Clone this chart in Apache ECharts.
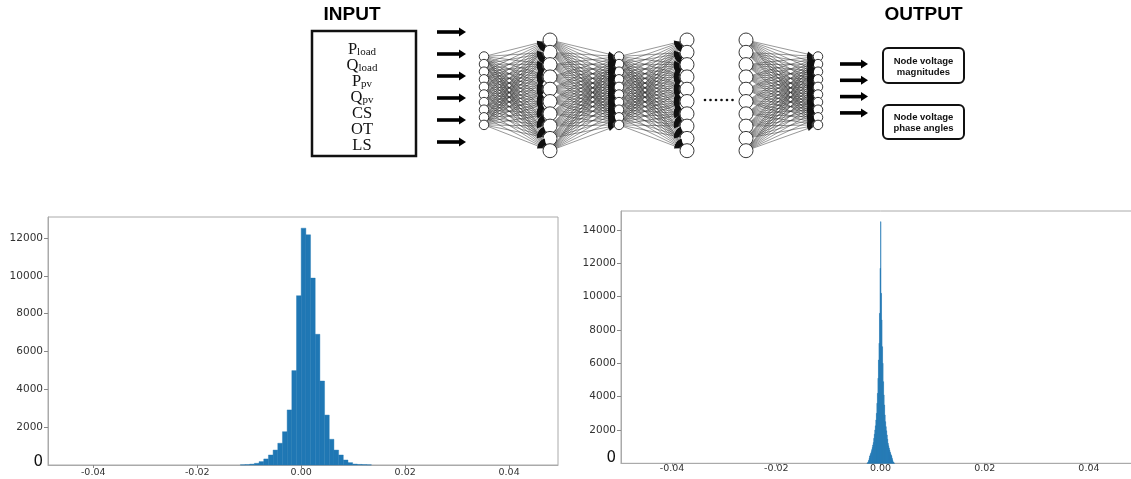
<!DOCTYPE html>
<html><head><meta charset="utf-8">
<script src="https://cdn.jsdelivr.net/npm/echarts@6/dist/echarts.min.js"></script>
<style>html,body{margin:0;padding:0;background:#fff;overflow:hidden}#c{width:1140px;height:479px}</style>
</head><body><div id="c"></div>
<script>
// ---------------- DATA ----------------
const inputVars = [['P','load'],['Q','load'],['P','pv'],['Q','pv'],['CS',''],['OT',''],['LS','']];
const outputLabels = ['Node voltage\nmagnitudes', 'Node voltage\nphase angles'];
const diagramTitles = ['INPUT', 'OUTPUT'];
const layerSizes = [10, 10, 10, 10, 10, 10];
const layerLinks = [[0,1],[1,2],[2,3],[4,5]];

const xTicks = [-0.04, -0.02, 0.00, 0.02, 0.04];
const leftYTicks = [0, 2000, 4000, 6000, 8000, 10000, 12000];
const rightYTicks = [0, 2000, 4000, 6000, 8000, 10000, 12000, 14000];

const leftBinStart = -0.0117;
const leftBinWidth = 0.0009;
const leftCounts = [10, 20, 45, 90, 180, 320, 530, 790, 1150, 1760, 2910, 4990, 8950, 12520,
  12170, 9880, 6910, 4440, 2640, 1360, 790, 530, 265, 125, 50, 30, 20, 10];

const rightBinStart = -0.0026;
const rightBinWidth = 0.0001;
const rightCounts = [15,40,90,180,300,440,520,600,700,820,950,1100,1250,1500,1750,2000,2250,2600,3000,3600,4200,5100,6200,7200,9000,11700,
  14500,
  10200,8600,7000,6000,4900,4100,3500,2900,2500,2200,1950,1700,1450,1200,1050,920,800,680,580,500,420,290,170,85,35,12];

// ---------------- LAYOUT (diagram units = px) ----------------
const L = {
  titleX: [352, 923.5], titleY: 15,
  inBox: [312, 31, 416, 156], outBoxes: [[883, 48, 964, 83], [883, 105, 964, 139]],
  inTextX: 362, inTextY0: 49, inTextStep: 16.1,
  inArrowX: [437, 466], inArrowY0: 32, inArrowStep: 22,
  outArrowX: [840, 868], outArrowY0: 64, outArrowStep: 16.3,
  outTextY: [67.2, 123.3],
  layerX: [484, 550, 619, 687, 746, 818],
  layerBig: [false, true, false, true, true, false],
  smallY0: 56.5, smallStep: 7.6, smallSize: 9.5,
  bigY0: 40, bigStep: 12.3, bigSize: 14,
  dotsX0: 705, dotsStep: 5.5, dotsN: 6, dotsY: 100,
  headLen: 6, headHalf: 2.6
};

// ---------------- BUILD ----------------
const nodes = [], layerIdx = [];
layerSizes.forEach((n, li) => {
  const ids = [];
  for (let k = 0; k < n; k++) {
    const big = L.layerBig[li];
    const y = big ? L.bigY0 + k * L.bigStep : L.smallY0 + k * L.smallStep;
    ids.push(nodes.length);
    nodes.push({ value: [L.layerX[li], y], symbolSize: big ? L.bigSize : L.smallSize });
  }
  layerIdx.push(ids);
});
const links = [], heads = [];
layerLinks.forEach(([a, b]) => {
  layerIdx[a].forEach(s => layerIdx[b].forEach(t => {
    links.push({ source: s, target: t });
    heads.push([nodes[s].value[0], nodes[s].value[1], nodes[t].value[0], nodes[t].value[1], nodes[t].symbolSize / 2]);
  }));
});

const inArrows = inputVars.slice(0, 6).map((_, i) => [L.inArrowX[0], L.inArrowY0 + i * L.inArrowStep, L.inArrowX[1]]);
const outArrows = [0,1,2,3].map(i => [L.outArrowX[0], L.outArrowY0 + i * L.outArrowStep, L.outArrowX[1]]);
const boxes = [L.inBox.concat([0, 2.5])].concat(L.outBoxes.map(b => b.concat([5, 2])));
const dots = [];
for (let i = 0; i < L.dotsN; i++) dots.push([L.dotsX0 + i * L.dotsStep, L.dotsY]);

const BLUE = '#1f77b4';
function binData(start, width, counts) {
  return counts.map((c, i) => [start + i * width, start + (i + 1) * width, c]);
}
function barItem(params, api) {
  const p0 = api.coord([api.value(0), api.value(2)]);
  const p1 = api.coord([api.value(1), 0]);
  return { type: 'rect', shape: { x: p0[0], y: p0[1], width: p1[0] - p0[0], height: p1[1] - p0[1] },
    style: { fill: BLUE, stroke: BLUE, lineWidth: 0.4 } };
}
function arrowItem(params, api) {
  const a = api.coord([api.value(0), api.value(1)]);
  const b = api.coord([api.value(2), api.value(1)]);
  const hl = 7, hh = 4.5, sh = 1.8;
  return { type: 'group', children: [
    { type: 'rect', shape: { x: a[0], y: a[1] - sh, width: b[0] - a[0] - hl + 1, height: sh * 2 }, style: { fill: '#000' } },
    { type: 'polygon', shape: { points: [[b[0] - hl, a[1] - hh], [b[0], a[1]], [b[0] - hl, a[1] + hh]] }, style: { fill: '#000' } }
  ] };
}
function headItem(params, api) {
  const s = api.coord([api.value(0), api.value(1)]);
  const t = api.coord([api.value(2), api.value(3)]);
  const r = api.value(4);
  let dx = t[0] - s[0], dy = t[1] - s[1];
  const d = Math.sqrt(dx * dx + dy * dy); dx /= d; dy /= d;
  const tip = [t[0] - dx * r, t[1] - dy * r];
  const base = [tip[0] - dx * L.headLen, tip[1] - dy * L.headLen];
  const px = -dy * L.headHalf, py = dx * L.headHalf;
  return { type: 'polygon', shape: { points: [tip, [base[0] + px, base[1] + py], [base[0] - px, base[1] - py]] },
    style: { fill: '#111' } };
}
function boxItem(params, api) {
  const p0 = api.coord([api.value(0), api.value(1)]);
  const p1 = api.coord([api.value(2), api.value(3)]);
  return { type: 'rect', shape: { x: p0[0], y: p0[1], width: p1[0] - p0[0], height: p1[1] - p0[1], r: api.value(4) },
    style: { fill: '#fff', stroke: '#111', lineWidth: api.value(5) } };
}
const tickFont = 'DejaVu Sans';
function yFormatter(v) { return v === 0 ? '{z|0}' : '{n|' + v + '}'; }
function yAxisFor(grid, max, ticks, zeroPad) {
  return {
    gridIndex: grid, type: 'value', min: 0, max: max,
    axisLine: { show: true, onZero: false, lineStyle: { color: '#aaa' } },
    axisTick: { show: true, customValues: ticks.slice(1), length: 4, lineStyle: { color: '#888' } },
    splitLine: { show: false },
    axisLabel: { customValues: ticks, margin: 5, formatter: yFormatter,
      rich: { n: { fontSize: 10.5, color: '#333', fontFamily: tickFont },
              z: { fontSize: 15, color: '#111', fontFamily: tickFont, padding: [0, 0, zeroPad, 0] } } }
  };
}
function xAxisFor(grid, min, max, margin) {
  return {
    gridIndex: grid, type: 'value', min: min, max: max,
    axisLine: { show: true, onZero: false, lineStyle: { color: '#aaa' } },
    axisTick: { show: true, customValues: xTicks, length: 3, lineStyle: { color: '#888' } },
    splitLine: { show: false },
    axisLabel: { customValues: xTicks, margin: margin, fontSize: 9.5, color: '#333', fontFamily: tickFont,
      formatter: v => v.toFixed(2) }
  };
}
const textPoint = { symbolSize: 1, itemStyle: { color: 'transparent', opacity: 1 }, silent: true, z: 5 };

const option = {
  animation: false,
  backgroundColor: '#fff',
  grid: [
    { left: 0, top: 0, width: 1131, height: 165 },
    { left: 48, top: 217, width: 510, height: 248, show: true, borderColor: '#aaa', borderWidth: 1 },
    { left: 621, top: 211, width: 519, height: 252.3, show: true, borderColor: '#aaa', borderWidth: 1 }
  ],
  xAxis: [
    { gridIndex: 0, type: 'value', min: 0, max: 1131, show: false },
    xAxisFor(1, -0.0487, 0.0494, 3),
    xAxisFor(2, -0.0498, 0.0498, 0)
  ],
  yAxis: [
    { gridIndex: 0, type: 'value', min: 0, max: 165, inverse: true, show: false },
    yAxisFor(1, 13110, leftYTicks, 6),
    yAxisFor(2, 15140, rightYTicks, 10)
  ],
  series: [
    { type: 'custom', xAxisIndex: 0, yAxisIndex: 0, z: 1, silent: true, renderItem: boxItem, data: boxes },
    { type: 'custom', xAxisIndex: 0, yAxisIndex: 0, z: 3, silent: true, renderItem: arrowItem, data: inArrows.concat(outArrows) },
    { type: 'graph', layout: 'none', coordinateSystem: 'cartesian2d', xAxisIndex: 0, yAxisIndex: 0, z: 2, silent: true,
      symbol: 'circle', data: nodes, links: links,
      itemStyle: { color: '#fff', borderColor: '#222', borderWidth: 0.9, opacity: 1 },
      lineStyle: { color: '#333', width: 0.6, opacity: 0.85 } },
    { type: 'custom', xAxisIndex: 0, yAxisIndex: 0, z: 4, silent: true, renderItem: headItem, data: heads },
    Object.assign({ type: 'scatter', xAxisIndex: 0, yAxisIndex: 0, data: dots }, textPoint,
      { symbolSize: 2.6, itemStyle: { color: '#111', opacity: 1 } }),
    Object.assign({ type: 'scatter', xAxisIndex: 0, yAxisIndex: 0,
      data: diagramTitles.map((t, i) => [L.titleX[i], L.titleY]),
      label: { show: true, position: 'inside', formatter: p => diagramTitles[p.dataIndex],
        fontFamily: 'Liberation Sans', fontWeight: 'bold', fontSize: 19, color: '#000' } }, textPoint),
    Object.assign({ type: 'scatter', xAxisIndex: 0, yAxisIndex: 0,
      data: inputVars.map((v, i) => [L.inTextX, L.inTextY0 + i * L.inTextStep]),
      label: { show: true, position: 'inside', color: '#111',
        formatter: p => { const v = inputVars[p.dataIndex]; return '{m|' + v[0] + '}' + (v[1] ? '{s|' + v[1] + '}' : ''); },
        rich: { m: { fontFamily: 'Liberation Serif', fontSize: 16.5, lineHeight: 16, color: '#111', verticalAlign: 'top' },
                s: { fontFamily: 'Liberation Serif', fontSize: 11, lineHeight: 11, color: '#111', padding: [6, 0, 0, 0] } } } }, textPoint),
    Object.assign({ type: 'scatter', xAxisIndex: 0, yAxisIndex: 0,
      data: outputLabels.map((t, i) => [(L.outBoxes[i][0] + L.outBoxes[i][2]) / 2, L.outTextY[i]]),
      label: { show: true, position: 'inside', formatter: p => outputLabels[p.dataIndex], align: 'center',
        fontFamily: 'Liberation Sans', fontWeight: 'bold', fontSize: 9.5, lineHeight: 11, color: '#111' } }, textPoint),
    { type: 'custom', xAxisIndex: 1, yAxisIndex: 1, renderItem: barItem, encode: { x: [0, 1], y: 2 },
      data: binData(leftBinStart, leftBinWidth, leftCounts) },
    { type: 'custom', xAxisIndex: 2, yAxisIndex: 2, renderItem: barItem, encode: { x: [0, 1], y: 2 },
      data: binData(rightBinStart, rightBinWidth, rightCounts) }
  ]
};
const chart = echarts.init(document.getElementById('c'));
chart.setOption(option);
</script></body></html>
